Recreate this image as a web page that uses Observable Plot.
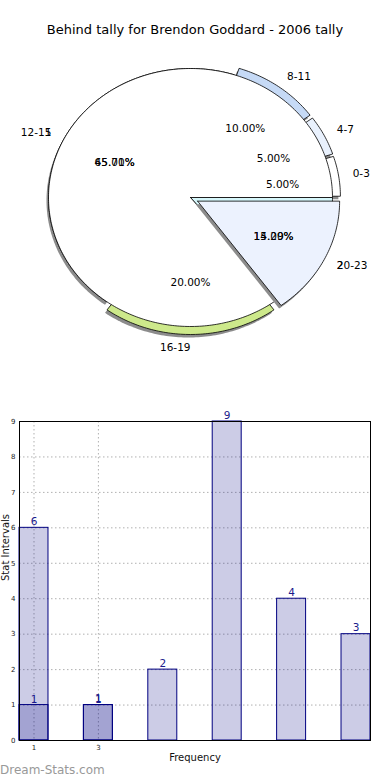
<!DOCTYPE html>
<html><head><meta charset="utf-8">
<script src="https://cdn.jsdelivr.net/npm/d3@7"></script>
<script src="https://cdn.jsdelivr.net/npm/@observablehq/plot@0.6"></script>
<style>
body{margin:0;background:#fff;font-family:"DejaVu Sans",sans-serif;}
#wrap{position:relative;width:390px;height:780px;overflow:hidden;background:#fff}
#title{position:absolute;top:21px;left:0;width:390px;text-align:center;font-size:13px;line-height:18px;color:#000}
#pie{position:absolute;top:50px;left:0}
#bar{position:absolute;top:400px;left:0}
#wm{position:absolute;left:0;top:763px;font-size:12px;color:#999;line-height:14px}
</style></head><body>
<div id="wrap"><div id="title"></div><div id="pie"></div><div id="bar"></div><div id="wm"></div></div>
<script>
// ---------- data ----------
const chartTitle = "Behind tally for Brendon Goddard - 2006 tally";
const pieCategories = ["0-3", "4-7", "8-11", "12-15", "16-19", "20-23"];
const pieCounts = [1, 1, 2, 9, 4, 3];
const pieBLabels = ["1", null, "2"];
const pieBPercents = [65.71, 20.00, 14.29];
const pieBLabelAt = ["12-15", null, "20-23"];

const barX = [1, 3, 5, 7, 9, 11];
const barSeriesA = [6, 1, 2, 9, 4, 3];
const barXB = [1, 3];
const barSeriesB = [1, 1];
const xTicks = [1, 3];
const yTicks = [0, 1, 2, 3, 4, 5, 6, 7, 8, 9];
const xLabel = "Frequency";
const yLabel = "Stat Intervals";
const watermark = "Dream-Stats.com";

// ---------- styles ----------
const pieColors = ["#ffffff", "#e9f1fd", "#c6daf6", "#ffffff", "#cde98b", "#ecf2fe"];
const pieExplode = [8, 8, 8, 0, 8, 8];
const pieBColors = ["#ffffff", "#ffffff", "#d6f7fb"];
const CX = 190, CY = 147, RX = 142, RY = 129;
const shadowDX = -2, shadowDY = 3;
const navy = "#000080";

document.getElementById("title").textContent = chartTitle;
document.getElementById("wm").textContent = watermark;

const rad = a => a * Math.PI / 180;
function arcPts(cx, cy, a0, a1) {
  const pts = [];
  const n = Math.max(2, Math.ceil(a1 - a0));
  for (let i = 0; i <= n; i++) {
    const t = rad(a0 + (a1 - a0) * i / n);
    pts.push([cx + RX * Math.cos(t), cy - RY * Math.sin(t)]);
  }
  return pts;
}
function wedgePts(id, cx, cy, a0, a1, fill) {
  const pts = [[cx, cy], ...arcPts(cx, cy, a0, a1), [cx, cy]];
  return pts.map(([x, y]) => ({id, x, y, fill}));
}

// pie A geometry
const totalA = d3.sum(pieCounts);
let acc = 0;
const sliceA = pieCategories.map((c, i) => {
  const a0 = acc / totalA * 360;
  acc += pieCounts[i];
  const a1 = acc / totalA * 360;
  const mid = (a0 + a1) / 2;
  const ex = pieExplode[i];
  const cx = CX + ex * Math.cos(rad(mid));
  const cy = CY - ex * Math.sin(rad(mid));
  const lx = cx + 1.1 * RX * Math.cos(rad(mid));
  const ly = cy - 1.1 * RY * Math.sin(rad(mid));
  const px = cx + 0.6 * RX * Math.cos(rad(mid));
  const py = cy - 0.6 * RY * Math.sin(rad(mid));
  return {cat: c, i, a0, a1, mid, cx, cy, lx, ly, px, py,
    anchor: Math.cos(rad(mid)) > 0 ? "start" : "end",
    pct: (pieCounts[i] / totalA * 100).toFixed(2) + "%"};
});

// pie B geometry
const totalB = d3.sum(pieBPercents);
let accB = 0;
const sliceB = pieBPercents.map((p, i) => {
  const a0 = accB / totalB * 360;
  accB += p;
  const a1 = accB / totalB * 360;
  return {i, a0, a1, label: pieBLabels[i], pct: p.toFixed(2) + "%", at: pieBLabelAt[i]};
});

const last = sliceA.length - 1;
const shadowLow = sliceA.filter(s => s.i !== last).flatMap(s =>
  wedgePts("sh" + s.i, s.cx + shadowDX, s.cy + shadowDY, s.a0, s.a1, "#8c8c8c"));
const wedgesLow = sliceA.filter(s => s.i !== last).flatMap(s =>
  wedgePts("a" + s.i, s.cx, s.cy, s.a0, s.a1, pieColors[s.i]));
// first two pie-B wedges share one white face
const bFace = wedgePts("bf", CX, CY, sliceB[0].a0, sliceB[1].a1, pieBColors[0]);
const bLast = wedgePts("bl", CX, CY, sliceB[2].a0, sliceB[2].a1, pieBColors[2]);
const sTop = sliceA[last];
const shadowTop = wedgePts("shT", sTop.cx + shadowDX, sTop.cy + shadowDY, sTop.a0, sTop.a1, "#8c8c8c");
const wedgeTop = wedgePts("aT", sTop.cx, sTop.cy, sTop.a0, sTop.a1, pieColors[last]);

const byCat = Object.fromEntries(sliceA.map(s => [s.cat, s]));
const labelsB = sliceB.filter(s => s.label != null).map(s => ({...s, ref: byCat[s.at]}));

const pieTexts = [
  ...sliceA.map(s => ({x: s.lx, y: s.ly, text: s.cat, anchor: s.anchor})),
  ...labelsB.map(s => ({x: s.ref.lx, y: s.ref.ly, text: s.label, anchor: s.ref.anchor}))
];
const pctTexts = [
  ...sliceA.map(s => ({x: s.px, y: s.py, text: s.pct})),
  ...labelsB.map(s => ({x: s.ref.px, y: s.ref.py, text: s.pct}))
];

const pie = Plot.plot({
  width: 390, height: 350, margin: 0,
  x: {domain: [0, 390], range: [0, 390], axis: null},
  y: {domain: [0, 350], range: [0, 350], axis: null},
  color: {type: "identity"},
  style: {fontFamily: "DejaVu Sans", background: "white", overflow: "visible"},
  marks: [
    Plot.line(shadowLow, {x: "x", y: "y", z: "id", fill: "fill", stroke: "none", curve: "linear"}),
    Plot.line(wedgesLow, {x: "x", y: "y", z: "id", fill: "fill", stroke: "black", strokeWidth: 0.8, curve: "linear"}),
    Plot.line(bLast, {x: "x", y: "y", z: "id", fill: "fill", stroke: "black", strokeWidth: 0.8, curve: "linear"}),
    Plot.line(bFace, {x: "x", y: "y", z: "id", fill: "fill", stroke: "black", strokeWidth: 0.8, curve: "linear"}),
    Plot.line(shadowTop, {x: "x", y: "y", z: "id", fill: "fill", stroke: "none", curve: "linear"}),
    Plot.line(wedgeTop, {x: "x", y: "y", z: "id", fill: "fill", stroke: "black", strokeWidth: 0.8, curve: "linear"}),
    Plot.text(pieTexts.filter(d => d.anchor === "start"), {x: "x", y: "y", text: "text", textAnchor: "start", fontSize: 10.5, fill: "black"}),
    Plot.text(pieTexts.filter(d => d.anchor === "end"), {x: "x", y: "y", text: "text", textAnchor: "end", fontSize: 10.5, fill: "black"}),
    Plot.text(pctTexts, {x: "x", y: "y", text: "text", textAnchor: "middle", fontSize: 10.5, fill: "black"})
  ]
});
document.getElementById("pie").appendChild(pie);

// ---------- bar chart ----------
const barsA = barX.map((x, i) => ({x, v: barSeriesA[i]}));
const barsB = barXB.map((x, i) => ({x, v: barSeriesB[i]}));
const halfW = 0.45;
const gridStyle = {stroke: "#b0b0b0", strokeOpacity: 1, strokeWidth: 1, strokeDasharray: "1.5,2.5"};

const bar = Plot.plot({
  width: 390, height: 380,
  marginLeft: 19, marginRight: 20, marginTop: 21, marginBottom: 40,
  x: {domain: [barX[0] - 0.45, barX[barX.length - 1] + 0.45]},
  y: {domain: [yTicks[0], yTicks[yTicks.length - 1]]},
  style: {fontFamily: "DejaVu Sans", background: "white", overflow: "visible"},
  marks: [
    Plot.gridY(yTicks.slice(1, -1), gridStyle),
    Plot.gridX(xTicks, gridStyle),
    Plot.rect(barsA, {x1: d => d.x - halfW, x2: d => d.x + halfW, y1: 0, y2: "v", fill: navy, fillOpacity: 0.2, stroke: navy, strokeWidth: 1}),
    Plot.rect(barsB, {x1: d => d.x - halfW, x2: d => d.x + halfW, y1: 0, y2: "v", fill: navy, fillOpacity: 0.2, stroke: navy, strokeWidth: 1}),
    Plot.text(barsA, {x: "x", y: "v", text: d => String(d.v), dy: -3, lineAnchor: "bottom", fill: "#1a1a8c", fontSize: 10.5}),
    Plot.text(barsB, {x: "x", y: "v", text: d => String(d.v), dy: -2, lineAnchor: "bottom", fill: "#1a1a8c", fontSize: 10.5}),
    Plot.frame({stroke: "black", strokeWidth: 1}),
    Plot.axisY(yTicks, {tickSize: 0, tickPadding: 4, fontSize: 7, label: null, color: "#222"}),
    Plot.axisX(xTicks, {tickSize: 0, tickPadding: 5, fontSize: 7, label: null, color: "#222"}),
    Plot.text([xLabel], {frameAnchor: "bottom", text: d => d, dy: 20, fontSize: 10, fill: "#111"}),
    Plot.text([yLabel], {frameAnchor: "left", text: d => d, dx: -14, rotate: -90, fontSize: 10, fill: "#111"})
  ]
});
document.getElementById("bar").appendChild(bar);
</script>
</body></html>
